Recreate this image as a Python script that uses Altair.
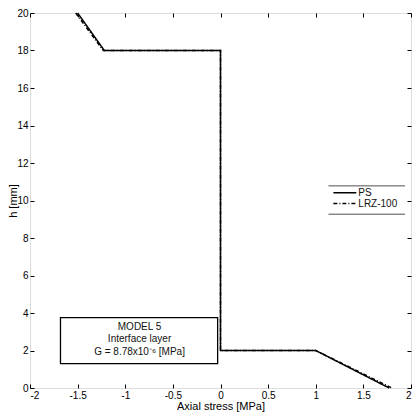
import altair as alt
import pandas as pd

# ---- data ----
series_names = ["PS", "LRZ-100"]
ps_x = [-1.50, -1.22, 0.0, 0.0, 1.0, 1.77]
ps_y = [20.0, 18.0, 18.0, 2.0, 2.0, 0.0]
lrz_x = [-1.52, -1.23, 0.0, 0.0, 1.0, 1.80]
lrz_y = [20.0, 18.0, 18.0, 2.0, 2.0, 0.0]

x_ticks = [-2, -1.5, -1, -0.5, 0, 0.5, 1, 1.5, 2]
y_ticks = [0, 2, 4, 6, 8, 10, 12, 14, 16, 18, 20]

note_lines = ["MODEL 5", "Interface layer", "G = 8.78x10\u207b\u2076  [MPa]"]
note_line_y = [3.23, 2.64, 1.93]
note_x = [-0.85, -0.85, -0.85]
note_box_x = [-1.68, -0.03]
note_box_y = [1.30, 3.75]

legend_frame_x = [1.133, 1.937]
legend_frame_y = [10.78, 9.27]
legend_sample_x = [1.185, 1.426]
legend_sample_y = [10.42, 9.84]
legend_label_x = 1.447

W, H = 381, 375
FONT = "Liberation Sans"

# ---- tables ----
rows = []
for name, xs_, ys_ in [("PS", ps_x, ps_y), ("LRZ-100", lrz_x, lrz_y)]:
    for i, (a, b) in enumerate(zip(xs_, ys_)):
        rows.append({"series": name, "i": i, "x": a, "y": b})
lines_df = pd.DataFrame(rows)

box_df = pd.DataFrame({"x": [note_box_x[0]], "x2": [note_box_x[1]],
                       "y": [note_box_y[0]], "y2": [note_box_y[1]]})
note_df = pd.DataFrame({"x": note_x, "y": note_line_y, "t": note_lines})

frame_df = pd.DataFrame({"y": legend_frame_y,
                         "x": [legend_frame_x[0]] * 2,
                         "x2": [legend_frame_x[1]] * 2})
srows = []
for name, yy in zip(series_names, legend_sample_y):
    for i, xx in enumerate(legend_sample_x):
        srows.append({"series": name, "i": i, "x": xx, "y": yy})
sample_df = pd.DataFrame(srows)
label_df = pd.DataFrame({"x": [legend_label_x] * 2, "y": legend_sample_y,
                         "t": series_names})

xs = alt.Scale(domain=[-2, 2], nice=False, zero=False)
ys = alt.Scale(domain=[0, 20], nice=False, zero=False)
dash = alt.Scale(domain=series_names, range=[[1, 0], [4, 2, 1, 2]])

# axes
main_x = alt.Axis(orient="bottom", values=x_ticks, labelExpr="'' + datum.value",
                  ticks=False, domain=False, grid=False, labelPadding=2,
                  title="Axial stress [MPa]", titleY=21,
                  titleBaseline="alphabetic", titleFontWeight="normal")
main_y = alt.Axis(orient="left", values=y_ticks, labelExpr="'' + datum.value",
                  ticks=False, domain=False, grid=False, labelPadding=2,
                  title="h [mm]", titleX=-12, titleFontWeight="normal")
tick_common = dict(labels=False, domain=False, grid=False, title=None,
                   ticks=True, tickSize=4, tickColor="black", tickWidth=1)
in_bottom = alt.Axis(orient="top", offset=-H, values=x_ticks, **tick_common)
in_top = alt.Axis(orient="bottom", offset=-H, values=x_ticks, **tick_common)
in_left = alt.Axis(orient="right", offset=-W, values=y_ticks, **tick_common)
in_right = alt.Axis(orient="left", offset=-W, values=y_ticks, **tick_common)

box = alt.Chart(box_df).mark_rect(fill="white", stroke="black", strokeWidth=1.3).encode(
    x=alt.X("x:Q", scale=xs, axis=in_bottom),
    x2="x2",
    y=alt.Y("y:Q", scale=ys, axis=in_left),
    y2="y2",
)

note = alt.Chart(note_df).mark_text(font=FONT, fontSize=10, color="#111",
                                    align="center", baseline="middle").encode(
    x=alt.X("x:Q", scale=xs, axis=in_top),
    y=alt.Y("y:Q", scale=ys, axis=in_right),
    text="t:N",
)

lines = alt.Chart(lines_df).mark_line(color="black", strokeWidth=1.5).encode(
    x=alt.X("x:Q", scale=xs, axis=main_x),
    y=alt.Y("y:Q", scale=ys, axis=main_y),
    strokeDash=alt.StrokeDash("series:N", scale=dash, legend=None),
    detail="series:N",
    order="i:O",
)

frame = alt.Chart(frame_df).mark_rule(color="#222", strokeWidth=0.8).encode(
    x=alt.X("x:Q", scale=xs, axis=None),
    x2="x2",
    y=alt.Y("y:Q", scale=ys, axis=None),
)

samples = alt.Chart(sample_df).mark_line(color="black", strokeWidth=1.5).encode(
    x=alt.X("x:Q", scale=xs, axis=None),
    y=alt.Y("y:Q", scale=ys, axis=None),
    strokeDash=alt.StrokeDash("series:N", scale=dash, legend=None),
    detail="series:N",
    order="i:O",
)

labels = alt.Chart(label_df).mark_text(font=FONT, fontSize=10, color="#111",
                                       align="left", baseline="middle").encode(
    x=alt.X("x:Q", scale=xs, axis=None),
    y=alt.Y("y:Q", scale=ys, axis=None),
    text="t:N",
)

chart = alt.layer(box, note, lines, frame, samples, labels).resolve_scale(
    x="shared", y="shared", strokeDash="shared"
).resolve_axis(x="independent", y="independent").properties(
    width=W, height=H,
    autosize=alt.AutoSizeParams(type="none"),
    padding={"left": 22, "top": 5, "right": 1, "bottom": 24},
).configure_view(stroke="black", strokeWidth=1.5).configure_axis(
    labelFont=FONT, labelFontSize=10, labelColor="#111",
    titleFont=FONT, titleFontSize=10, titleColor="#111", titleFontWeight="normal",
).configure(background="white")

chart.save("out.html", embed_options={"renderer": "svg", "actions": False})
